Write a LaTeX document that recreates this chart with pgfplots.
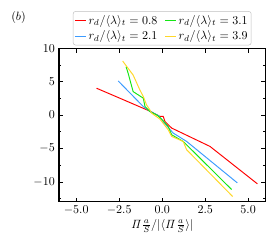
\documentclass[border=0pt]{standalone}
\usepackage{pgfplots}
\pgfplotsset{compat=1.18}
\definecolor{cred}{RGB}{255,0,0}
\definecolor{cblue}{RGB}{60,155,255}
\definecolor{cgreen}{RGB}{20,230,20}
\definecolor{cyellow}{RGB}{255,215,40}
\begin{document}
\begin{tikzpicture}
\begin{axis}[
  name=ax,
  width=172pt, height=128pt, scale only axis,
  xmin=-6, xmax=6, ymin=-13, ymax=10,
  xtick={-5,-2.5,0,2.5,5},
  xticklabels={$-5.0$,$-2.5$,$0.0$,$2.5$,$5.0$},
  ytick={-10,-5,0,5,10},
  minor ytick={-12.5,-7.5,-2.5,2.5,7.5},
  tick align=inside,
  major tick length=3.5pt, minor tick length=2pt,
  axis line style={line width=0.9pt},
  every tick/.style={black, line width=0.6pt},
  xlabel={$\mathit{\Pi}\frac{a}{S}/|\langle \mathit{\Pi}\frac{a}{S}\rangle|$},
  xlabel style={yshift=3pt},
  legend columns=2, transpose legend,
  legend style={at={(0.5,1.02)}, anchor=south, draw=black!25, rounded corners=2pt,
    font=\normalsize, inner sep=1pt, /tikz/every even column/.append style={column sep=4pt}},
  legend cell align=left,
  legend image code/.code={\draw[#1] (0pt,0pt) -- (9pt,0pt);},
  every axis plot/.append style={line width=0.8pt},
]
\addplot[cred] coordinates {(-3.82,4.03) (-0.72,0.6) (-0.13,-0.2) (0.06,-0.2) (0.16,-0.95) (0.55,-1.94) (2.78,-4.69) (5.54,-10.3)};
\addlegendentry{$r_d/\langle\lambda\rangle_t=0.8$}
\addplot[cblue] coordinates {(-2.56,5.12) (-1.1,1.28) (-0.72,0.6) (-0.2,-0.1) (0.06,-1.0) (0.64,-2.69) (1.42,-3.94) (4.37,-10.15)};
\addlegendentry{$r_d/\langle\lambda\rangle_t=2.1$}
\addplot[cgreen] coordinates {(-2.1,7.25) (-1.98,6.27) (-1.69,3.52) (-1.1,2.54) (-1.0,1.29) (-0.72,0.54) (-0.3,0.0) (-0.03,-0.6) (0.35,-1.7) (0.55,-2.94) (1.22,-3.94) (4.04,-11.15)};
\addlegendentry{$r_d/\langle\lambda\rangle_t=3.1$}
\addplot[cyellow] coordinates {(-2.3,8.1) (-1.69,6.0) (-1.3,3.78) (-1.1,2.78) (-0.91,1.54) (-0.72,0.79) (-0.62,0.3) (-0.13,-0.6) (0.35,-2.2) (0.55,-3.19) (1.22,-3.94) (1.42,-5.18) (4.1,-12.2)};
\addlegendentry{$r_d/\langle\lambda\rangle_t=3.9$}
\end{axis}
\node at ([shift={(-33.75pt,25.4pt)}]ax.north west) {$(b)$};
\path ([shift={(-49.2pt,-37.5pt)}]ax.south west) coordinate (bl);
\path ([shift={(181.7pt,168.3pt)}]ax.south west) coordinate (tr);
\pgfresetboundingbox
\useasboundingbox (bl) rectangle (tr);
\end{tikzpicture}
\end{document}
